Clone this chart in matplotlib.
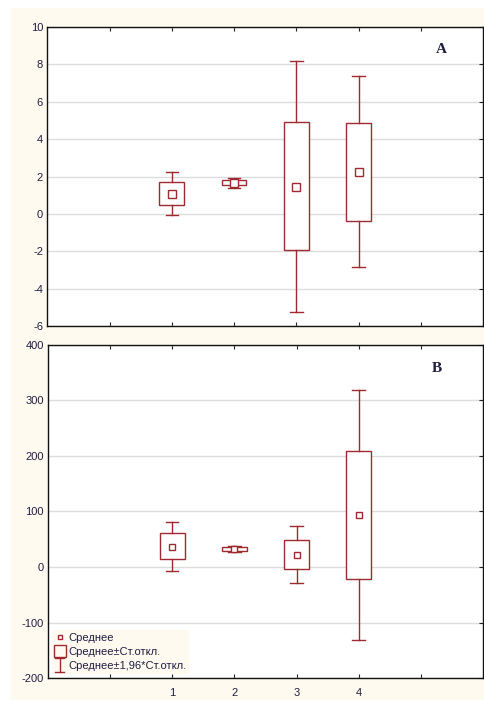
import matplotlib
matplotlib.use("Agg")
import matplotlib.pyplot as plt
from matplotlib.patches import Rectangle
from matplotlib.lines import Line2D
from matplotlib.legend_handler import HandlerBase

groups = [1, 2, 3, 4]
xtick_pos = [0, 1, 2, 3, 4, 5]
xtick_labels = ["", "1", "2", "3", "4", ""]

# Panel A
a_mean = [1.09, 1.68, 1.47, 2.23]
a_box_lo = [0.50, 1.55, -1.92, -0.37]
a_box_hi = [1.73, 1.82, 4.94, 4.85]
a_wh_lo = [-0.05, 1.41, -5.23, -2.85]
a_wh_hi = [2.27, 1.95, 8.20, 7.38]
a_yticks = [-6, -4, -2, 0, 2, 4, 6, 8, 10]

# Panel B
b_mean = [36.7, 32.5, 21.2, 93.6]
b_box_lo = [14.0, 29.5, -4.1, -20.9]
b_box_hi = [60.7, 36.0, 49.3, 208.8]
b_wh_lo = [-7.0, 27.1, -29.3, -131.0]
b_wh_hi = [81.7, 37.9, 74.5, 317.9]
b_yticks = [-200, -100, 0, 100, 200, 300, 400]

RED = "#9E2A2F"
TXT = "#1E1E40"
CREAM = "#FFFAF0"

plt.rcParams['font.family'] = ['Liberation Sans', 'DejaVu Sans']
plt.rcParams['axes.unicode_minus'] = False

fig = plt.figure(figsize=(4.84, 7.02), dpi=100, facecolor="white")
fig.patches.append(Rectangle((11/484, 2/702), 1 - 11/484, 1 - 10/702,
                             transform=fig.transFigure, facecolor=CREAM,
                             edgecolor="none", zorder=-10))

axA = fig.add_axes([0.0977, 0.5352, 0.998 - 0.0977, 0.9615 - 0.5352])
axB = fig.add_axes([0.0990, 0.0338, 0.998 - 0.0990, 0.509 - 0.0338])


def draw(ax, mean, blo, bhi, wlo, whi, yticks, msize):
    bw = 0.40
    cw = 0.20
    for x, m, lo, hi, wl, wh in zip(groups, mean, blo, bhi, wlo, whi):
        ax.add_patch(Rectangle((x - bw / 2, lo), bw, hi - lo, facecolor="white",
                               edgecolor=RED, lw=1.0, zorder=3))
        ax.plot([x, x], [hi, wh], color=RED, lw=1.0, zorder=3)
        ax.plot([x, x], [wl, lo], color=RED, lw=1.0, zorder=3)
        ax.plot([x - cw / 2, x + cw / 2], [wh, wh], color=RED, lw=1.0, zorder=3)
        ax.plot([x - cw / 2, x + cw / 2], [wl, wl], color=RED, lw=1.0, zorder=3)
    ax.plot(groups, mean, ls="none", marker="s", ms=msize, mfc="white",
            mec=RED, mew=1.0, zorder=4)
    ax.set_xlim(-1, 6)
    ax.set_ylim(yticks[0], yticks[-1])
    ax.set_yticks(yticks)
    ax.set_xticks(xtick_pos)
    ax.grid(axis="y", color="#DDDDDD", lw=1.0, zorder=0)
    ax.set_axisbelow(True)
    ax.tick_params(direction="in", top=True, right=True, length=3,
                   labelsize=8, labelcolor=TXT, color="#222222", pad=3)
    ax.tick_params(axis="y", left=False)
    for s in ax.spines.values():
        s.set_color("#111111")
        s.set_linewidth(1.0)


draw(axA, a_mean, a_box_lo, a_box_hi, a_wh_lo, a_wh_hi, a_yticks, 5.5)
axA.set_xticklabels([""] * len(xtick_pos))
axA.text(0.905, 0.925, "A", transform=axA.transAxes, fontsize=11,
         family="Liberation Serif", fontweight="bold", color=TXT,
         ha="center", va="center")

draw(axB, b_mean, b_box_lo, b_box_hi, b_wh_lo, b_wh_hi, b_yticks, 4.5)
axB.set_xticklabels(xtick_labels)
axB.tick_params(axis="x", pad=7)
axB.text(0.893, 0.93, "B", transform=axB.transAxes, fontsize=11,
         family="Liberation Serif", fontweight="bold", color=TXT,
         ha="center", va="center")


class IHandle:
    pass


class HandlerI(HandlerBase):
    def create_artists(self, legend, orig_handle, xdescent, ydescent,
                       width, height, fontsize, trans):
        cx = width / 2 - xdescent
        h = 10.0
        cy = height / 2 - ydescent
        y0, y1 = cy - h / 2, cy + h / 2
        half = 3.5
        lines = [
            Line2D([cx, cx], [y0, y1], color=RED, lw=1.0, transform=trans),
            Line2D([cx - half, cx + half], [y0, y0], color=RED, lw=1.0, transform=trans),
            Line2D([cx - half, cx + half], [y1, y1], color=RED, lw=1.0, transform=trans),
        ]
        return lines


handles = [
    Line2D([], [], ls="none", marker="s", ms=3.5, mfc="white", mec=RED, mew=1.0),
    Line2D([], [], ls="none", marker="s", ms=8.5, mfc="none", mec=RED, mew=1.0),
    IHandle(),
]
leg = axB.legend(handles, ["Среднее", "Среднее±Ст.откл.", "Среднее±1,96*Ст.откл."],
                 loc="lower left", bbox_to_anchor=(0.0, 0.0), fontsize=8,
                 frameon=True, fancybox=False, handlelength=0.8,
                 handletextpad=0.35, labelspacing=0.35, borderpad=0.3,
                 borderaxespad=0.35, handler_map={IHandle: HandlerI()})
leg.get_frame().set_facecolor(CREAM)
leg.get_frame().set_edgecolor("none")
leg.get_frame().set_alpha(1.0)
for t in leg.get_texts():
    t.set_color(TXT)

fig.savefig("out.png", dpi=100, facecolor="white")
